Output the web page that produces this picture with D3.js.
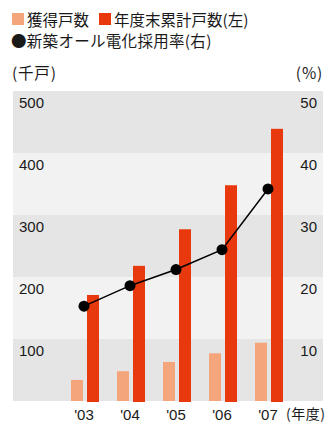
<!DOCTYPE html>
<html>
<head>
<meta charset="utf-8">
<script src="https://cdn.jsdelivr.net/npm/d3@7"></script>
<style>
  html, body { margin: 0; padding: 0; background: #fff; }
  svg { display: block; }
  text { font-family: "Liberation Sans", Arial, "Noto Sans CJK JP", sans-serif; fill: #1a1a1a; }
  .jp { font-family: "Noto Sans CJK JP", sans-serif; }
</style>
</head>
<body>
<div id="chart"></div>
<script>
// Fiscal years
const years = ["'03", "'04", "'05", "'06", "'07"];
// 獲得戸数 (千戸)
const acquired = [34, 48, 63, 77, 94];
// 年度末累計戸数 (千戸, left axis)
const cumulative = [171, 218, 277, 348, 439];
// 新築オール電化採用率 (%, right axis)
const adoptionRate = [15.3, 18.6, 21.2, 24.4, 34.2];
// Axis ticks
const leftTicks = [100, 200, 300, 400, 500];
const rightTicks = [10, 20, 30, 40, 50];

const W = 331, H = 422;
const plot = { left: 13, right: 323, top: 91, bottom: 401 };
const colLight = "#f4a57b", colDark = "#e8390e";

const svg = d3.select("#chart").append("svg").attr("width", W).attr("height", H);

const yL = d3.scaleLinear().domain([0, 500]).range([plot.bottom, plot.top]);
const yR = d3.scaleLinear().domain([0, 50]).range([plot.bottom, plot.top]);
const x = d3.scaleBand().domain(years).range([62, 292]).padding(0);
const xs = d3.scaleBand().domain(["acq", "cum"]).range([9, 37]).paddingInner(0.25).paddingOuter(0);

// Alternating horizontal bands
const bands = [0, 100, 200, 300, 400];
svg.append("g").selectAll("rect").data(bands).join("rect")
  .attr("x", plot.left)
  .attr("width", plot.right - plot.left)
  .attr("y", d => yL(d + 100))
  .attr("height", d => yL(d) - yL(d + 100))
  .attr("fill", (d, i) => i % 2 === 0 ? "#e5e5e5" : "#f2f2f2");

// Left tick labels (inside each band, at its top)
svg.append("g").selectAll("text").data(leftTicks).join("text")
  .attr("x", 19).attr("y", d => yL(d) + 16.5)
  .attr("font-size", 15)
  .text(d => d);

// Right tick labels
svg.append("g").selectAll("text").data(rightTicks).join("text")
  .attr("x", 317).attr("y", d => yR(d) + 16.5)
  .attr("text-anchor", "end")
  .attr("font-size", 15)
  .text(d => d);

// Bars
const groups = svg.append("g").selectAll("g").data(years).join("g")
  .attr("transform", d => `translate(${x(d)},0)`);
groups.append("rect")
  .attr("x", xs("acq")).attr("width", xs.bandwidth())
  .attr("y", (d, i) => yL(acquired[i]))
  .attr("height", (d, i) => yL(0) - yL(acquired[i]))
  .attr("fill", colLight);
groups.append("rect")
  .attr("x", xs("cum")).attr("width", xs.bandwidth())
  .attr("y", (d, i) => yL(cumulative[i]))
  .attr("height", (d, i) => yL(0) - yL(cumulative[i]) + 1)
  .attr("fill", colDark);

// Adoption rate line
const cx = d => x(d) + x.bandwidth() / 2 - 1;
const line = d3.line().x((d, i) => cx(years[i])).y(d => yR(d));
svg.append("path").datum(adoptionRate)
  .attr("d", line).attr("fill", "none")
  .attr("stroke", "#000").attr("stroke-width", 1.5);
svg.append("g").selectAll("circle").data(adoptionRate).join("circle")
  .attr("cx", (d, i) => cx(years[i])).attr("cy", d => yR(d))
  .attr("r", 5.5).attr("fill", "#000");

// X axis labels
svg.append("g").selectAll("text").data(years).join("text")
  .attr("x", d => x(d) + x.bandwidth() / 2 - 1).attr("y", 420)
  .attr("text-anchor", "middle").attr("font-size", 15)
  .text(d => d);
svg.append("text").attr("class", "jp")
  .attr("x", 286).attr("y", 419).attr("font-size", 14)
  .attr("letter-spacing", 0.5)
  .text("(年度)");

// Unit labels
svg.append("text").attr("class", "jp").attr("x", 12).attr("y", 79).attr("font-size", 15.5)
  .attr("letter-spacing", 0.8).text("(千戸)");
svg.append("text").attr("class", "jp").attr("x", 323).attr("y", 79).attr("text-anchor", "end").attr("font-size", 15.5)
  .attr("letter-spacing", 0.8).text("(%)");

// Legend
const lg = svg.append("g");
lg.append("rect").attr("x", 12).attr("y", 13).attr("width", 12).attr("height", 12).attr("fill", colLight);
lg.append("text").attr("class", "jp").attr("x", 27).attr("y", 25.5).attr("font-size", 15.5).text("獲得戸数");
lg.append("rect").attr("x", 99).attr("y", 13).attr("width", 12).attr("height", 12).attr("fill", colDark);
lg.append("text").attr("class", "jp").attr("x", 114).attr("y", 25.5).attr("font-size", 15.5).text("年度末累計戸数(左)");
lg.append("text").attr("class", "jp").attr("x", 11).attr("y", 47).attr("font-size", 15.5)
  .attr("letter-spacing", 0.3).text("●新築オール電化採用率(右)");
</script>
</body>
</html>
